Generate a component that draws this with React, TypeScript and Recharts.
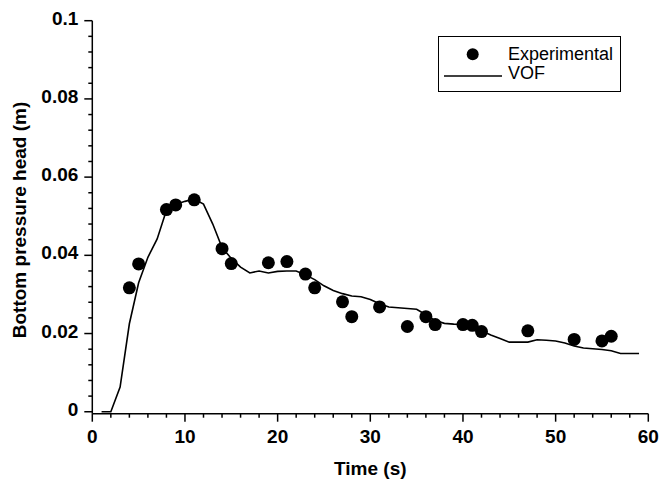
import { ComposedChart, Line, Scatter, XAxis, YAxis, Legend, Label } from 'recharts'

// experimental points (time s, head m)
const expTime = [4, 5, 8, 9, 11, 14, 15, 19, 21, 23, 24, 27, 28, 31, 34, 36, 37, 40, 41, 42, 47, 52, 55, 56]
const expHead = [
  0.0317, 0.0378, 0.0517, 0.0529, 0.0542, 0.0417, 0.0379, 0.0381, 0.0384, 0.0352, 0.0317, 0.0281,
  0.0243, 0.0268, 0.0218, 0.0243, 0.0223, 0.0223, 0.0221, 0.0205, 0.0207, 0.0185, 0.0181, 0.0193,
]

// VOF simulation, read at 1 s steps
const vofTime = [
  1, 2, 3, 4, 5, 6, 7, 8, 9, 10, 11, 12, 13, 14, 15, 16, 17, 18, 19, 20, 21, 22, 23, 24, 25, 26, 27, 28, 29, 30,
  31, 32, 33, 34, 35, 36, 37, 38, 39, 40, 41, 42, 43, 44, 45, 46, 47, 48, 49, 50, 51, 52, 53, 54, 55, 56, 57, 58, 59,
]
const vofHead = [
  0, 0, 0.0063, 0.0225, 0.033, 0.0395, 0.0442, 0.0515, 0.053, 0.0538, 0.0544, 0.0531, 0.048, 0.042, 0.0392,
  0.037, 0.0355, 0.036, 0.0355, 0.0359, 0.036, 0.036, 0.035, 0.0338, 0.0322, 0.031, 0.0302, 0.0296, 0.0294,
  0.0287, 0.0276, 0.0268, 0.0266, 0.0264, 0.0262, 0.0248, 0.0233, 0.0226, 0.0224, 0.0223, 0.0217, 0.0207,
  0.0196, 0.0187, 0.0178, 0.0178, 0.0178, 0.0184, 0.0183, 0.0181, 0.0176, 0.0168, 0.0163, 0.0161, 0.0159,
  0.0156, 0.0149, 0.0149, 0.0149,
]

const xTicks = [0, 2, 4, 6, 8, 10, 12, 14, 16, 18, 20, 22, 24, 26, 28, 30, 32, 34, 36, 38, 40, 42, 44, 46, 48, 50, 52, 54, 56, 58, 60]
const xLabels = [0, 10, 20, 30, 40, 50, 60]
const yTicks = [
  0, 0.004, 0.008, 0.012, 0.016, 0.02, 0.024, 0.028, 0.032, 0.036, 0.04, 0.044, 0.048, 0.052, 0.056, 0.06,
  0.064, 0.068, 0.072, 0.076, 0.08, 0.084, 0.088, 0.092, 0.096, 0.1,
]
const yLabels = [0, 0.02, 0.04, 0.06, 0.08, 0.1]

const expData = expTime.map((t, i) => ({ t, v: expHead[i] }))
const vofData = vofTime.map((t, i) => ({ t, v: vofHead[i] }))

const font = 'Liberation Sans, Arial, sans-serif'

function XTick(props: any) {
  const { x, y, payload } = props
  const major = xLabels.includes(payload.value)
  return (
    <g>
      <line x1={x} x2={x} y1={y} y2={y + (major ? 8 : 4)} stroke="#000" strokeWidth={1.5} />
      {major && (
        <text x={x} y={y + 29} textAnchor="middle" fontFamily={font} fontWeight="bold" fontSize={19} fill="#000">
          {payload.value}
        </text>
      )}
    </g>
  )
}

function YTick(props: any) {
  const { x, y, payload } = props
  const major = yLabels.some((v) => Math.abs(v - payload.value) < 1e-9)
  return (
    <g>
      <line x1={x} x2={x - (major ? 8 : 4)} y1={y} y2={y} stroke="#000" strokeWidth={1.5} />
      {major && (
        <text x={x - 14} y={y + 4} textAnchor="end" fontFamily={font} fontWeight="bold" fontSize={19} fill="#000">
          {String(payload.value)}
        </text>
      )}
    </g>
  )
}

function LegendBox() {
  return (
    <svg width={183} height={56} style={{ display: 'block' }}>
      <rect x={0.5} y={0.5} width={182} height={55} fill="#fff" stroke="#000" strokeWidth={1} />
      <circle cx={34.7} cy={18.3} r={6} fill="#000" />
      <line x1={6} x2={64} y1={40} y2={40} stroke="#000" strokeWidth={1.5} />
      <text x={70} y={24} fontFamily={font} fontSize={18} fill="#000">Experimental</text>
      <text x={70} y={43} fontFamily={font} fontSize={18} fill="#000">VOF</text>
    </svg>
  )
}

export default function App() {
  return (
    <div style={{ position: 'absolute', left: 0, top: 0, background: '#fff' }}>
      <ComposedChart width={659} height={480} margin={{ top: 20.7, right: 10.7, bottom: 36.3, left: 22.3 }}>
        <XAxis
          type="number"
          dataKey="t"
          domain={[0, 60]}
          ticks={xTicks}
          interval={0}
          tickSize={0}
          tickMargin={0}
          tickLine={false}
          tick={<XTick />}
          height={30}
          axisLine={{ stroke: '#000', strokeWidth: 1.5 }}
        >
          <Label
            content={() => (
              <text x={370.3} y={475} textAnchor="middle" fontFamily={font} fontWeight="bold" fontSize={19} fill="#000">
                Time (s)
              </text>
            )}
          />
        </XAxis>
        <YAxis
          type="number"
          domain={[-0.0005, 0.1]}
          ticks={yTicks}
          interval={0}
          tickSize={0}
          tickMargin={0}
          tickLine={false}
          tick={<YTick />}
          width={70}
          axisLine={{ stroke: '#000', strokeWidth: 1.5 }}
        >
          <Label
            content={() => (
              <text
                x={19}
                y={220}
                transform="rotate(-90 19 220)"
                textAnchor="middle"
                dominantBaseline="central"
                fontFamily={font}
                fontWeight="bold"
                fontSize={19}
                fill="#000"
              >
                Bottom pressure head (m)
              </text>
            )}
          />
        </YAxis>
        <Legend
          layout="vertical"
          align="center"
          verticalAlign="middle"
          content={() => <LegendBox />}
          wrapperStyle={{ position: 'absolute', left: 438, top: 36, width: 183, height: 56 }}
        />
        <Line
          data={vofData}
          dataKey="v"
          name="VOF"
          type="linear"
          stroke="#000"
          strokeWidth={1.6}
          dot={false}
          isAnimationActive={false}
        />
        <Scatter
          data={expData}
          dataKey="v"
          name="Experimental"
          fill="#000"
          shape={(p: any) => <circle cx={p.cx} cy={p.cy} r={6.5} fill="#000" />}
          isAnimationActive={false}
        />
      </ComposedChart>
    </div>
  )
}
